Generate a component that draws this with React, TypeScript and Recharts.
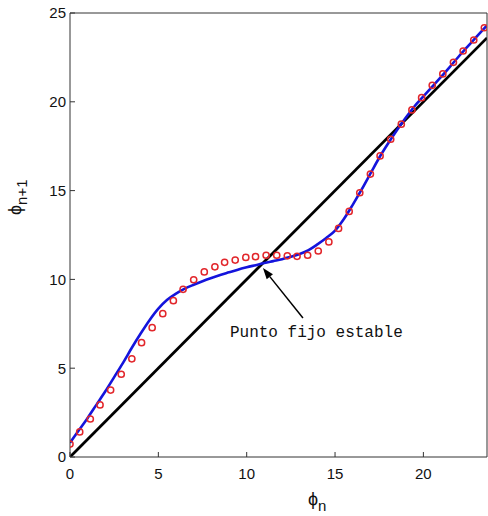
import {
  ComposedChart,
  Line,
  Scatter,
  XAxis,
  YAxis,
  ReferenceDot,
} from 'recharts';

// ticks
const xTicks = [0, 5, 10, 15, 20];
const yTicks = [0, 5, 10, 15, 20, 25];

// continuous map phi_{n+1} = f(phi_n)  (blue curve)
const curveX = [
  0, 0.5, 1, 1.5, 2, 2.5, 3, 3.5, 4, 4.5, 5, 5.5, 6, 6.5, 7, 7.5, 8, 8.5, 9, 9.5,
  10, 10.5, 11, 11.5, 12, 12.5, 13, 13.5, 14, 14.5, 15, 15.5, 16, 16.5, 17, 17.5,
  18, 18.5, 19, 19.5, 20, 20.5, 21, 21.5, 22, 22.5, 23, 23.6,
];
const curveY = [
  0.8, 1.5, 2.2, 2.95, 3.7, 4.5, 5.3, 6.15, 6.95, 7.7, 8.35, 8.85, 9.2, 9.48, 9.7, 9.9,
  10.08, 10.25, 10.4, 10.55, 10.68, 10.8, 10.92, 11.03, 11.14, 11.27, 11.43, 11.65,
  11.97, 12.33, 12.75, 13.4, 14.2, 15.05, 15.95, 16.85, 17.65, 18.4, 19.1, 19.75,
  20.3, 20.85, 21.4, 21.97, 22.55, 23.1, 23.65, 24.3,
];

// sampled iterations (red circles)
const sampleX = [
  0, 0.55, 1.15, 1.7, 2.3, 2.9, 3.5, 4.05, 4.65, 5.25, 5.85, 6.4, 7.0, 7.6, 8.2, 8.75,
  9.35, 9.95, 10.5, 11.1, 11.7, 12.3, 12.85, 13.45, 14.05, 14.65, 15.2, 15.8, 16.4,
  17.0, 17.55, 18.15, 18.75, 19.35, 19.9, 20.5, 21.1, 21.7, 22.25, 22.85, 23.45,
];
const sampleY = [
  0.73, 1.41, 2.14, 2.93, 3.77, 4.66, 5.53, 6.44, 7.28, 8.07, 8.8, 9.44, 9.98, 10.42,
  10.71, 10.96, 11.09, 11.24, 11.28, 11.36, 11.36, 11.33, 11.3, 11.36, 11.6, 12.11,
  12.87, 13.83, 14.88, 15.93, 16.95, 17.89, 18.74, 19.54, 20.23, 20.93, 21.57, 22.22,
  22.86, 23.48, 24.17,
];

// identity line phi_{n+1} = phi_n
const diagonalX = [0, 23.6];

const fixedPointX = 10.92;
const noteText = 'Punto fijo estable';

const curve = curveX.map((x, i) => ({ x, y: curveY[i] }));
const samples = sampleX.map((x, i) => ({ x, y: sampleY[i] }));
const diagonal = diagonalX.map((x) => ({ x, y: x }));

const tickFont = { fill: '#111', fontSize: 15, fontFamily: 'Liberation Sans, Arial, sans-serif' };

const Ring = (props: any) => {
  if (props.cx == null || props.cy == null) return null;
  return (
    <circle cx={props.cx} cy={props.cy} r={3.1} fill="none" stroke="#e2262b" strokeWidth={1.5} />
  );
};

// arrow + text anchored on the fixed point
const FixedPointNote = (props: any) => {
  const { cx, cy } = props;
  if (cx == null || cy == null) return null;
  const tipX = cx;
  const tipY = cy + 5;
  const tailX = cx + 40;
  const tailY = cy + 55;
  const dx = tipX - tailX;
  const dy = tipY - tailY;
  const len = Math.hypot(dx, dy);
  const ux = dx / len;
  const uy = dy / len;
  const hl = 11;
  const hw = 4;
  const bx = tipX - ux * hl;
  const by = tipY - uy * hl;
  const head = `${tipX},${tipY} ${bx - uy * hw},${by + ux * hw} ${bx + uy * hw},${by - ux * hw}`;
  return (
    <g>
      <line x1={tailX} y1={tailY} x2={bx} y2={by} stroke="#000" strokeWidth={1.5} />
      <polygon points={head} fill="#000" />
      <text
        x={cx - 33}
        y={cy + 74}
        fontFamily="Liberation Mono, Courier New, monospace"
        fontSize={16}
        fill="#111"
      >
        {noteText}
      </text>
    </g>
  );
};

const XLabel = (props: any) => {
  const vb = props.viewBox || { x: 0, y: 0 };
  return (
    <text x={vb.x + 238} y={vb.y + 48} fontFamily="Liberation Sans, Arial, sans-serif" fill="#111">
      <tspan fontSize={18}>ϕ</tspan>
      <tspan fontSize={15} dy={6}>n</tspan>
    </text>
  );
};

const YLabel = (props: any) => {
  const vb = props.viewBox || { x: 0, y: 0 };
  const bx = vb.x + 21;
  const by = vb.y + 202;
  return (
    <text
      x={0}
      y={0}
      transform={`translate(${bx},${by}) rotate(-90)`}
      fontFamily="Liberation Sans, Arial, sans-serif"
      fill="#111"
    >
      <tspan fontSize={18}>ϕ</tspan>
      <tspan fontSize={15} dy={6}>n+1</tspan>
    </text>
  );
};

export default function App() {
  return (
    <div style={{ position: 'absolute', left: 0, top: 0, width: 488, height: 516, background: '#fff' }}>
      <ComposedChart width={488} height={516} margin={{ top: 3, right: 0, bottom: 0, left: 0 }}>
        <XAxis
          type="number"
          dataKey="x"
          domain={[0, 23.6]}
          ticks={xTicks}
          interval={0}
          allowDataOverflow
          height={59}
          tickSize={-5}
          tickMargin={16}
          stroke="#333"
          tick={tickFont}
          label={{ content: XLabel }}
        />
        <XAxis
          xAxisId="top"
          orientation="top"
          type="number"
          domain={[0, 23.6]}
          ticks={xTicks}
          interval={0}
          allowDataOverflow
          height={10}
          tickSize={-5}
          tickFormatter={() => ''}
          stroke="#333"
        />
        <YAxis
          type="number"
          dataKey="y"
          domain={[0, 25]}
          ticks={yTicks}
          interval={0}
          allowDataOverflow
          width={70}
          tickSize={-5}
          tickMargin={9}
          stroke="#333"
          tick={tickFont}
          label={{ content: YLabel }}
        />
        <YAxis
          yAxisId="right"
          orientation="right"
          type="number"
          domain={[0, 25]}
          ticks={yTicks}
          interval={0}
          width={1}
          tickSize={-5}
          tickFormatter={() => ''}
          stroke="#333"
        />
        <Line
          data={diagonal}
          dataKey="y"
          type="linear"
          stroke="#000"
          strokeWidth={2.8}
          dot={false}
          isAnimationActive={false}
        />
        <Line
          data={curve}
          dataKey="y"
          type="monotone"
          stroke="#1414dc"
          strokeWidth={2.6}
          dot={false}
          isAnimationActive={false}
        />
        <Scatter data={samples} dataKey="y" shape={Ring} isAnimationActive={false} />
        <ReferenceDot x={fixedPointX} y={fixedPointX} r={1} shape={FixedPointNote} />
      </ComposedChart>
    </div>
  );
}
